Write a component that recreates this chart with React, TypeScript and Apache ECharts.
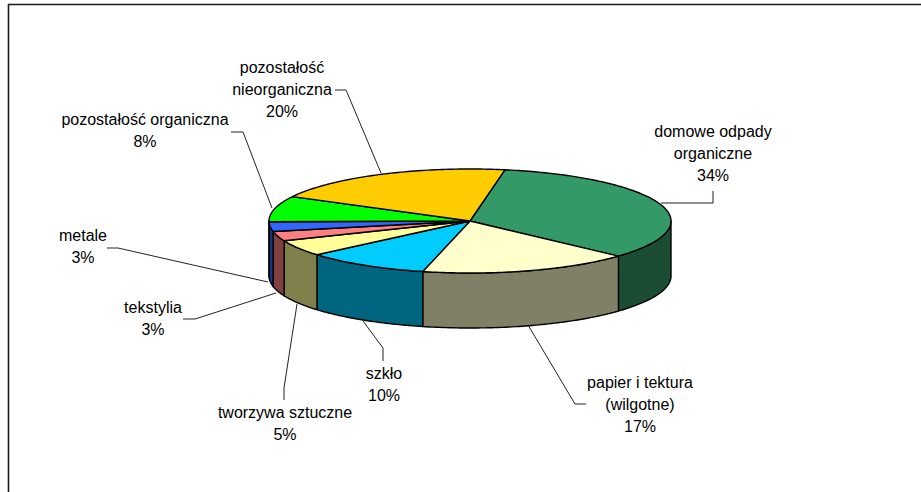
import React, { useEffect, useRef } from "react";
import * as echarts from "echarts";

const categories = [
  "domowe odpady\norganiczne",
  "papier i tektura\n(wilgotne)",
  "szkło",
  "tworzywa sztuczne",
  "tekstylia",
  "metale",
  "pozostałość organiczna",
  "pozostałość\nnieorganiczna",
];
const values = [34, 17, 10, 5, 3, 3, 8, 20];
const topColors = ["#339966", "#FFFFCC", "#00CCFF", "#FFFF99", "#FF8080", "#3366FF", "#00FF00", "#FFCC00"];
const sideColors = ["#1A4D33", "#808066", "#006680", "#80804D", "#804040", "#1A3380", "#008000", "#806600"];

const START_DEG = 10;
const CX = 470;
const CY = 221;
const RX = 201;
const RY = 52;
const DEPTH = 55;

const labelCenters = [
  [713, 132], [640, 383], [384, 374], [285, 413], [153, 308], [83, 236], [145, 120], [282, 68],
];
const leaders = [
  [[661, 203], [713, 203], [713, 191]],
  [[528, 325], [575, 404], [586, 404]],
  [[363, 321], [383, 348], [383, 361]],
  [[297, 304], [284, 388], [284, 400]],
  [[276, 293], [195, 319], [183, 319]],
  [[268, 282], [118, 248], [107, 248]],
  [[272, 208], [243, 132], [231, 132]],
  [[381, 173], [346, 90], [335, 90]],
];

const total = values.reduce((a, b) => a + b, 0);
const rad = (d: number) => (d * Math.PI) / 180;
const pt = (deg: number, dy = 0) => [CX + RX * Math.sin(rad(deg)), CY - RY * Math.cos(rad(deg)) + dy];
const arcPts = (a: number, b: number, dy = 0) => {
  const out: number[][] = [];
  const n = Math.max(2, Math.ceil(Math.abs(b - a)));
  for (let i = 0; i <= n; i++) out.push(pt(a + ((b - a) * i) / n, dy));
  return out;
};

function sliceRange(i: number) {
  let before = 0;
  for (let k = 0; k < i; k++) before += values[k];
  const a = START_DEG + (before / total) * 360;
  return [a, a + (values[i] / total) * 360];
}

export default function App() {
  const ref = useRef<HTMLDivElement>(null);
  useEffect(() => {
    const chart = echarts.init(ref.current!, undefined, { renderer: "svg" });
    const font = "16px 'Liberation Sans', Arial, sans-serif";
    chart.setOption({
      animation: false,
      backgroundColor: "#ffffff",
      graphic: [
        { type: "line", silent: true, shape: { x1: 8.5, y1: 4, x2: 8.5, y2: 492 }, style: { stroke: "#1a1a1a", lineWidth: 1.6 } },
        { type: "line", silent: true, shape: { x1: 8, y1: 4.5, x2: 921, y2: 4.5 }, style: { stroke: "#1a1a1a", lineWidth: 1.6 } },
        ...leaders.map((points) => ({
          type: "polyline",
          silent: true,
          shape: { points },
          style: { stroke: "#222222", lineWidth: 1, fill: "none" },
        })),
        ...categories.map((name, i) => ({
          type: "text",
          silent: true,
          x: labelCenters[i][0],
          y: labelCenters[i][1] - 11,
          style: {
            text: `${name}\n${values[i]}%`,
            font,
            fill: "#000000",
            align: "center",
            verticalAlign: "top",
            lineHeight: 21.8,
          },
        })),
      ],
      series: [
        {
          type: "custom",
          coordinateSystem: "none",
          silent: true,
          data: values.map((v) => [v]),
          renderItem: (params: any) => {
            const i = params.dataIndex;
            const [a, b] = sliceRange(i);
            const children: any[] = [];
            const sa = Math.max(a, 90);
            const sb = Math.min(b, 270);
            if (sb > sa) {
              children.push({
                type: "polygon",
                z2: 1,
                shape: { points: [...arcPts(sa, sb), ...arcPts(sb, sa, DEPTH)] },
                style: { fill: sideColors[i], stroke: "#000000", lineWidth: 1.4, lineJoin: "round" },
              });
            }
            children.push({
              type: "polygon",
              z2: 2,
              shape: { points: [[CX, CY], ...arcPts(a, b)] },
              style: { fill: topColors[i], stroke: "#000000", lineWidth: 1.4, lineJoin: "round" },
            });
            return { type: "group", children };
          },
        },
      ],
    });
    return () => chart.dispose();
  }, []);
  return <div ref={ref} style={{ position: "absolute", left: 0, top: 0, width: 921, height: 492 }} />;
}
